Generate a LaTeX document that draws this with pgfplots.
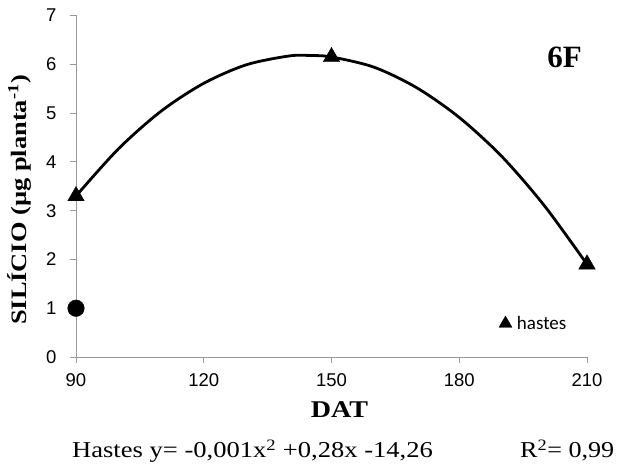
\documentclass[border=0pt]{standalone}
\usepackage{pgfplots}
\pgfplotsset{compat=1.18}
\usepackage{graphicx}
\usepackage{fontspec}
\setmainfont{Liberation Serif}
\newfontfamily\arial{Liberation Sans}
\newfontfamily\calibri{Carlito}
\begin{document}
\begin{tikzpicture}[x=1pt,y=1pt]
\useasboundingbox (0,0) rectangle (625,466);
\begin{axis}[
  at={(76pt,109pt)}, anchor=south west,
  scale only axis, width=511pt, height=341.5pt,
  xmin=90, xmax=210, ymin=0, ymax=7,
  xtick={90,120,150,180,210}, ytick={0,1,2,3,4,5,6,7},
  axis x line*=bottom, axis y line*=left,
  axis line style={draw=gray!80, line width=0.8pt, -},
  tick style={draw=gray!80, line width=0.8pt},
  tick align=outside, major tick length=6pt,
  /pgf/number format/assume math mode=true,
  ticklabel style={font=\arial\fontsize{18.5}{20}\selectfont},
  xticklabel style={yshift=-7pt},
  yticklabel style={xshift=-10pt},
  clip=false,
  legend style={draw=none, fill=none, at={(axis description cs:0.8274,0.098)}, anchor=west,
    font=\calibri\fontsize{19}{21}\selectfont, inner sep=0pt, row sep=0pt, column sep=3pt},
  legend cell align=left,
]
\addplot[black, line width=2.8pt, smooth, forget plot] coordinates {
 (90,3.30) (100,4.27) (110,5.04) (120,5.61) (130,5.99) (140,6.17) (145,6.18)
 (150,6.15) (160,5.94) (170,5.52) (180,4.91) (190,4.11) (200,3.10) (210,1.90)};
\addplot[only marks, mark=triangle*, mark size=9.5pt, black,
  legend image code/.code={\draw[black, mark=triangle*, mark size=7.5pt] plot coordinates {(0.2cm,0pt)};}]
  coordinates {(90,3.30) (150,6.15) (210,1.90)};
\addlegendentry{hastes}
\addplot[only marks, mark=*, mark size=8.3pt, black, forget plot] coordinates {(90,1.0)};
\end{axis}
\node[rotate=90, font=\bfseries\fontsize{22}{24}\selectfont] at (19,266) {\scalebox{1.2}[1]{SILÍCIO (µg planta\textsuperscript{-1})}};
\node[font=\bfseries\fontsize{31}{33}\selectfont] at (564.5,408.5) {6F};
\node[font=\bfseries\fontsize{24}{26}\selectfont, anchor=base] at (339.5,48) {\scalebox{1.17}[1]{DAT}};
\node[font=\fontsize{22.7}{25}\selectfont, anchor=base west, inner sep=0pt] at (72,8) {\scalebox{1.17}[1]{Hastes y= -0,001x\textsuperscript{2} +0,28x -14,26}};
\node[font=\fontsize{22.7}{25}\selectfont, anchor=base west, inner sep=0pt] at (520,8) {\scalebox{1.15}[1]{R\textsuperscript{2}= 0,99}};
\end{tikzpicture}
\end{document}
